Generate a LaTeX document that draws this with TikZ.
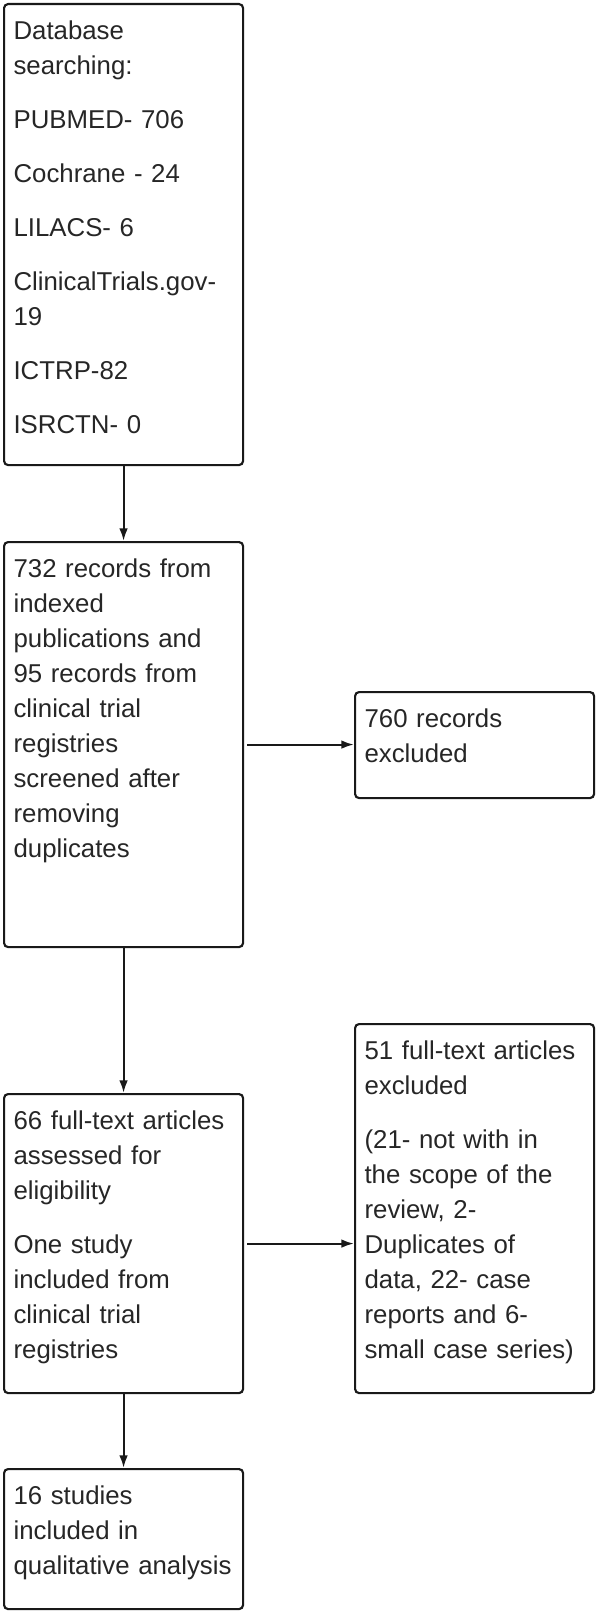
\documentclass[tikz,border=0pt]{standalone}
\usepackage{fontspec}
\setmainfont{Liberation Sans}
\usetikzlibrary{arrows.meta}
\tikzset{
	flowbox/.style={draw=black!90, line width=1.6pt, rounded corners=3pt, anchor=north west,
		text=black!85, font=\fontsize{19.35pt}{26.25pt}\selectfont, align=left,
		text width=165pt, inner xsep=7.125pt, inner ysep=0pt, text height=26.25pt},
	flowarrow/.style={draw=black!90, line width=1.6pt, -{Latex[length=9.5pt,width=6.5pt]}}
}
\def\gap{\\[14.25pt]}

\begin{document}
\begin{tikzpicture}[x=0.75pt, y=-0.75pt]
			%%%%% START %%%%%
			\useasboundingbox (0, 0) rectangle (598, 1612);
			
			\node[flowbox, text depth=319.5pt] (search) at (3, 3)
				{Database\\searching:\gap PUBMED- 706\gap Cochrane - 24\gap LILACS- 6\gap ClinicalTrials.gov-\\19\gap ICTRP-82\gap ISRCTN- 0};
			
			\node[flowbox, text depth=277.5pt] (screen) at (3, 541)
				{732 records from\\indexed\\publications and\\95 records from\\clinical trial\\registries\\screened after\\removing\\duplicates};
			
			\node[flowbox, text depth=53.25pt] (excl) at (354, 691)
				{760 records\\excluded};
			
			\node[flowbox, text depth=250.5pt] (ftexcl) at (354, 1023)
				{51 full-text articles\\excluded\gap (21- not with in\\the scope of the\\review, 2-\\Duplicates of\\data, 22- case\\reports and 6-\\small case series)};
			
			\node[flowbox, text depth=198pt] (fulltext) at (3, 1093)
				{66 full-text articles\\assessed for\\eligibility\gap One study\\included from\\clinical trial\\registries};
			
			\node[flowbox, text depth=78.75pt] (incl) at (3, 1468)
				{16 studies\\included in\\qualitative analysis};
			
			\draw[flowarrow] (search) -- (screen);
			\draw[flowarrow, shorten <=2.25pt] (screen.east) -- (screen.east -| excl.west);
			\draw[flowarrow] (screen) -- (fulltext);
			\draw[flowarrow, shorten <=2.25pt] (fulltext.east) -- (fulltext.east -| ftexcl.west);
			\draw[flowarrow] (fulltext) -- (incl);
			
			%%%%% END %%%%%
		\end{tikzpicture}
\end{document}
